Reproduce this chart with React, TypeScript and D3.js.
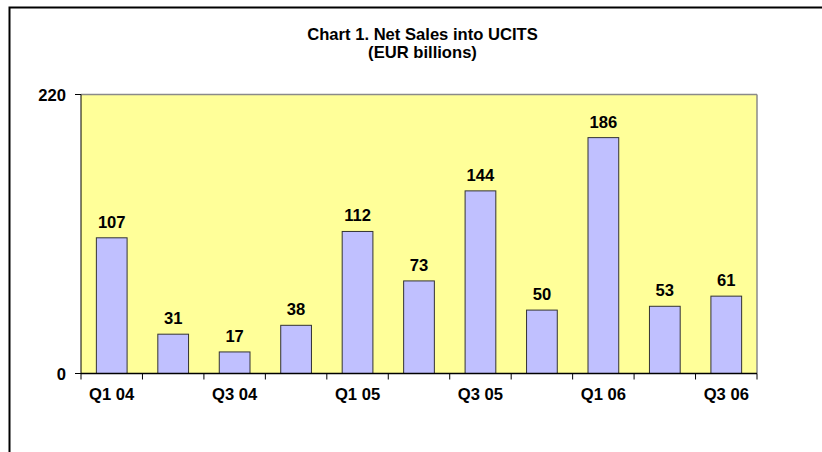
import React from "react";
import * as d3 from "d3";

const categories = ["Q1 04", "Q2 04", "Q3 04", "Q4 04", "Q1 05", "Q2 05", "Q3 05", "Q4 05", "Q1 06", "Q2 06", "Q3 06"];
const netSales = [107, 31, 17, 38, 112, 73, 144, 50, 186, 53, 61];
const shownLabels = ["Q1 04", "Q3 04", "Q1 05", "Q3 05", "Q1 06", "Q3 06"];
const yTicks = [0, 220];
const titleLines = ["Chart 1. Net Sales into UCITS", "(EUR billions)"];

const W = 822;
const H = 452;
const plot = { left: 81, right: 757, top: 94.5, bottom: 373.5 };
const FONT = "'Liberation Sans', Arial, sans-serif";
const FS = 16.6;

export default function App() {
  const x = d3
    .scaleBand<string>()
    .domain(categories)
    .range([plot.left, plot.right])
    .paddingInner(0.5)
    .paddingOuter(0.25);
  const y = d3.scaleLinear().domain([0, 220]).range([plot.bottom, plot.top]);
  const step = x.step();
  const boundaries = d3.range(categories.length + 1).map((i) => plot.left + i * step);

  return (
    <svg width={W} height={H} style={{ position: "absolute", left: 0, top: 0, background: "#fff" }} fontFamily={FONT}>
      <rect x={9.5} y={7.5} width={840} height={470} fill="#fff" stroke="#000" strokeWidth={2} />
      {titleLines.map((t, i) => (
        <text key={t} x={422.5} y={39.5 + i * 18.5} textAnchor="middle" fontSize={FS} fontWeight="bold" fill="#000">
          {t}
        </text>
      ))}
      <rect x={plot.left} y={plot.top} width={plot.right - plot.left} height={plot.bottom - plot.top} fill="#FFFF99" />
      <line x1={plot.left} x2={plot.right} y1={plot.top} y2={plot.top} stroke="#8a8a8a" strokeWidth={1.5} />
      <line x1={plot.right} x2={plot.right} y1={plot.top} y2={plot.bottom} stroke="#8a8a8a" strokeWidth={1.5} />
      {categories.map((c, i) => {
        const v = netSales[i];
        const bx = x(c)!;
        return (
          <g key={c}>
            <rect x={bx} y={y(v)} width={x.bandwidth()} height={y(0) - y(v)} fill="#C0C0FF" stroke="#333" strokeWidth={1} />
            <text x={bx + x.bandwidth() / 2} y={y(v) - 10} textAnchor="middle" fontSize={FS} fontWeight="bold" fill="#000">
              {v}
            </text>
          </g>
        );
      })}
      {/* y axis */}
      <line x1={plot.left} x2={plot.left} y1={plot.top} y2={plot.bottom} stroke="#000" strokeWidth={1} />
      {yTicks.map((t) => (
        <g key={t}>
          <line x1={plot.left - 6} x2={plot.left} y1={y(t)} y2={y(t)} stroke="#000" strokeWidth={1} />
          <text x={66} y={y(t) + 6} textAnchor="end" fontSize={FS} fontWeight="bold" fill="#000">
            {t}
          </text>
        </g>
      ))}
      {/* x axis */}
      <line x1={plot.left} x2={plot.right} y1={plot.bottom} y2={plot.bottom} stroke="#000" strokeWidth={1.5} />
      {boundaries.map((bx, i) => (
        <line key={i} x1={bx} x2={bx} y1={plot.bottom} y2={plot.bottom + 6} stroke="#000" strokeWidth={1} />
      ))}
      {categories.map((c) =>
        shownLabels.includes(c) ? (
          <text key={c} x={x(c)! + x.bandwidth() / 2} y={400} textAnchor="middle" fontSize={FS} fontWeight="bold" fill="#000">
            {c}
          </text>
        ) : null
      )}
    </svg>
  );
}
